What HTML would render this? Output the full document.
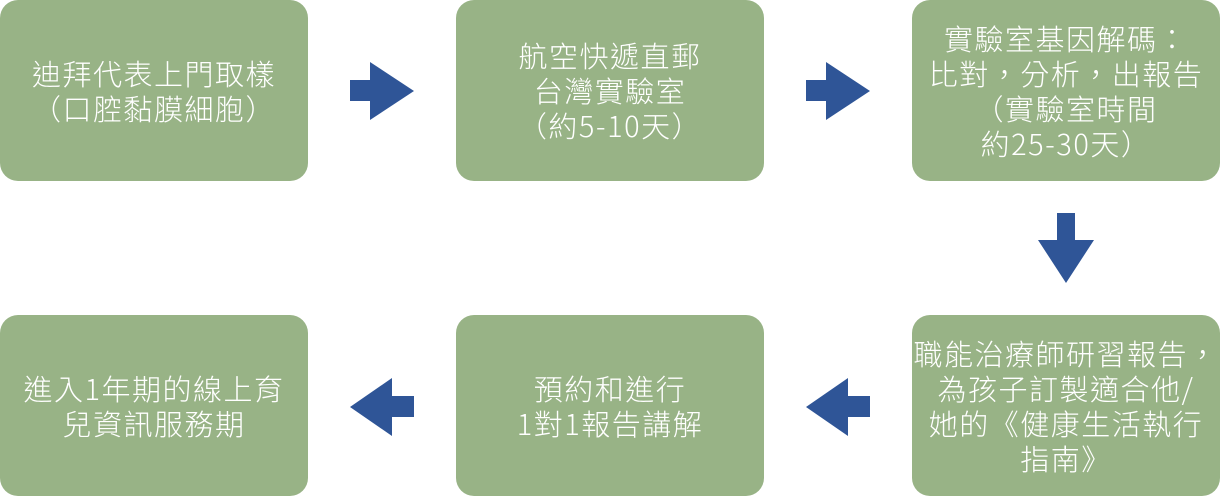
<!DOCTYPE html>
<html><head><meta charset="utf-8"><style>
html,body{margin:0;padding:0;background:#fff;width:1227px;height:497px;overflow:hidden;position:relative}
.b{position:absolute;width:308px;height:181px;background:#98b386;border-radius:18px;display:flex;align-items:center;justify-content:center;text-align:center;color:#fff;font-family:"Noto Sans CJK TC","Liberation Sans",sans-serif;font-weight:300;font-size:29px;letter-spacing:1.5px;line-height:35px;white-space:nowrap}
svg{position:absolute;left:0;top:0}
</style></head><body>
<div class="b" style="left:0;top:0">迪拜代表上門取樣<br>（口腔黏膜細胞）</div>
<div class="b" style="left:456px;top:0">航空快遞直郵<br>台灣實驗室<br>（約5-10天）</div>
<div class="b" style="left:912px;top:0">實驗室基因解碼：<br>比對，分析，出報告<br>（實驗室時間<br>約25-30天）</div>
<div class="b" style="left:912px;top:315px">職能治療師研習報告，<br>為孩子訂製適合他/<br>她的《健康生活執行<br>指南》</div>
<div class="b" style="left:456px;top:315px">預約和進行<br>1對1報告講解</div>
<div class="b" style="left:0;top:315px">進入1年期的線上育<br>兒資訊服務期</div>
<svg width="1227" height="497">
<g fill="#2f5597">
<polygon points="350,80 370,80 370,62 414,91 370,120 370,101 350,101"/>
<polygon points="806,80 826,80 826,62 870,91 826,120 826,101 806,101"/>
<polygon points="1057,213 1075,213 1075,240 1094,240 1066,283 1038,240 1057,240"/>
<polygon points="414,396 392,396 392,378 350,407 392,436 392,417 414,417"/>
<polygon points="870,396 848,396 848,378 806,407 848,436 848,417 870,417"/>
</g></svg>
</body></html>
